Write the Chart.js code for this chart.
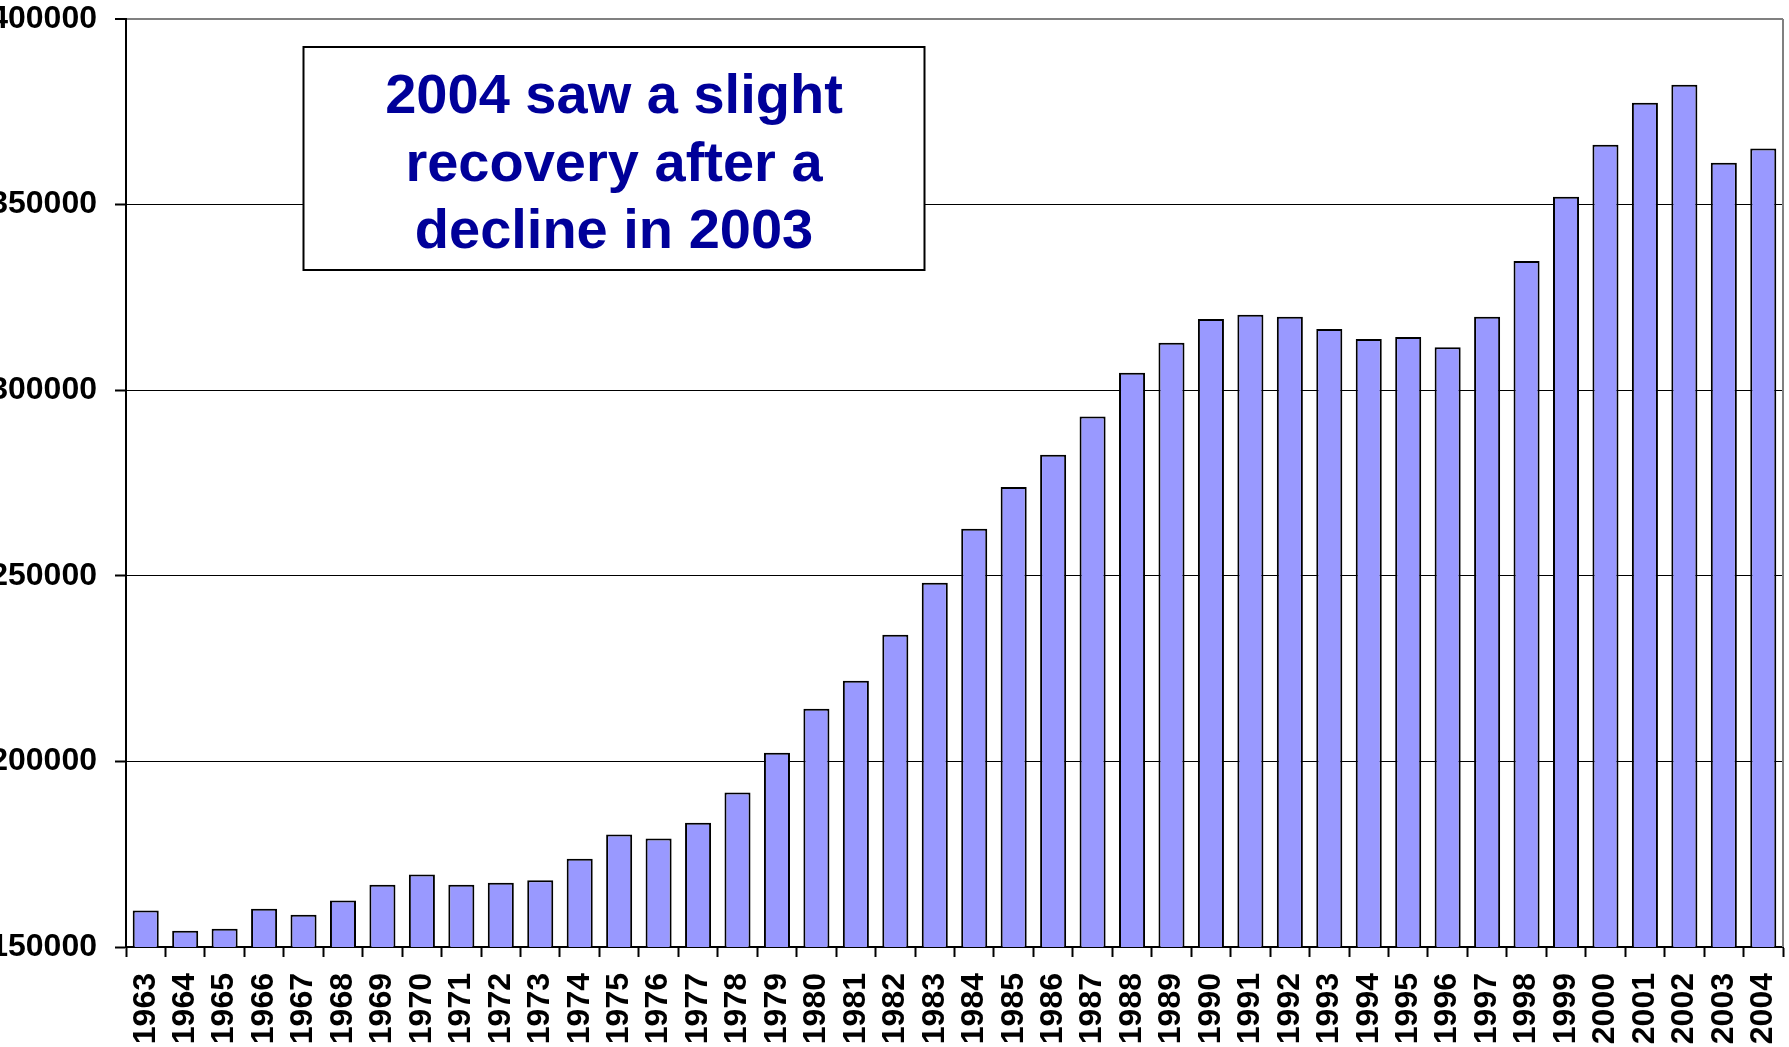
<!DOCTYPE html>
<html>
<head>
<meta charset="utf-8">
<script src="https://cdn.jsdelivr.net/npm/chart.js@4/dist/chart.umd.min.js"></script>
<style>
  html, body { margin: 0; padding: 0; background: #fff; overflow: hidden; }
  canvas { display: block; }
</style>
</head>
<body>
<canvas id="chart" width="1789" height="1047"></canvas>
<script>
const years = ['1963', '1964', '1965', '1966', '1967', '1968', '1969', '1970', '1971', '1972',
    '1973', '1974', '1975', '1976', '1977', '1978', '1979', '1980', '1981', '1982',
    '1983', '1984', '1985', '1986', '1987', '1988', '1989', '1990', '1991', '1992',
    '1993', '1994', '1995', '1996', '1997', '1998', '1999', '2000', '2001', '2002',
    '2003', '2004'];

const counts = [159800, 154400, 154900, 160300, 158700, 162500, 166800, 169500, 166800, 167300,
    168000, 173800, 180300, 179200, 183500, 191600, 202300, 214200, 221700, 234100,
    248100, 262700, 273900, 282600, 292900, 304700, 312800, 319200, 320300, 319800,
    316500, 313800, 314300, 311600, 319800, 334800, 352100, 366100, 377450, 382300,
    361300, 365100];

const yMin = 150000;
const yMax = 400000;
const yStep = 50000;

const noteLines = ['2004 saw a slight', 'recovery after a', 'decline in 2003'];

const FONT = '"Liberation Sans", Arial, sans-serif';

// grey plot frame on the right + the text box
const notePlugin = {
    id: 'note',
    afterDatasetsDraw(chart) {
        const { ctx, chartArea } = chart;
        ctx.save();
        ctx.strokeStyle = '#808080';
        ctx.lineWidth = 2;
        ctx.beginPath();
        ctx.moveTo(chartArea.right, chartArea.top);
        ctx.lineTo(chartArea.right, chartArea.bottom);
        ctx.stroke();

        const x = chartArea.left + 177.5;
        const y = chartArea.top + 28;
        const w = 621;
        const h = 223;
        ctx.fillStyle = '#ffffff';
        ctx.fillRect(x, y, w, h);
        ctx.strokeStyle = '#000000';
        ctx.lineWidth = 2;
        ctx.strokeRect(x, y, w, h);

        ctx.fillStyle = '#000099';
        ctx.font = 'bold 56px ' + FONT;
        ctx.textAlign = 'center';
        ctx.textBaseline = 'middle';
        noteLines.forEach((line, i) => {
            ctx.fillText(line, x + w / 2, y + h / 2 + (i - 1) * 67.5 + 7);
        });
        ctx.restore();
    }
};

new Chart(document.getElementById('chart'), {
    type: 'bar',
    data: {
        labels: years,
        datasets: [{
            data: counts,
            backgroundColor: '#9999ff',
            borderColor: '#000000',
            borderWidth: 2,
            barPercentage: 0.66,
            categoryPercentage: 1
        }]
    },
    options: {
        responsive: false,
        animation: false,
        devicePixelRatio: 1,
        layout: {
            padding: { top: 19, right: 6, left: 0, bottom: 0 }
        },
        plugins: {
            legend: { display: false },
            tooltip: { enabled: false }
        },
        scales: {
            x: {
                afterFit(scale) {
                    scale.height = 100;
                    scale.paddingLeft = 0;
                    scale.paddingRight = 0;
                },
                grid: {
                    drawOnChartArea: false,
                    drawTicks: true,
                    tickLength: 10,
                    tickColor: '#000000',
                    tickWidth: 2,
                    offset: true
                },
                border: { display: true, color: '#000000', width: 2 },
                ticks: {
                    autoSkip: false,
                    maxRotation: 90,
                    minRotation: 90,
                    padding: 16,
                    color: '#000000',
                    font: { family: FONT, size: 32, weight: 'bold' }
                }
            },
            y: {
                min: yMin,
                max: yMax,
                afterFit(scale) {
                    scale.width = 126;
                    scale.paddingTop = 0;
                    scale.paddingBottom = 0;
                },
                grid: {
                    color: (c) => (c.tick && c.tick.value === yMax ? '#808080' : '#000000'),
                    lineWidth: (c) => (c.tick && c.tick.value === yMax ? 2 : 1),
                    tickLength: 11,
                    tickColor: '#000000',
                    tickWidth: 2
                },
                border: { display: true, color: '#000000', width: 2 },
                ticks: {
                    stepSize: yStep,
                    padding: 18,
                    color: '#000000',
                    font: { family: FONT, size: 32, weight: 'bold' },
                    callback: function (value) { return String(value); }
                }
            }
        }
    },
    plugins: [notePlugin]
});
</script>
</body>
</html>
